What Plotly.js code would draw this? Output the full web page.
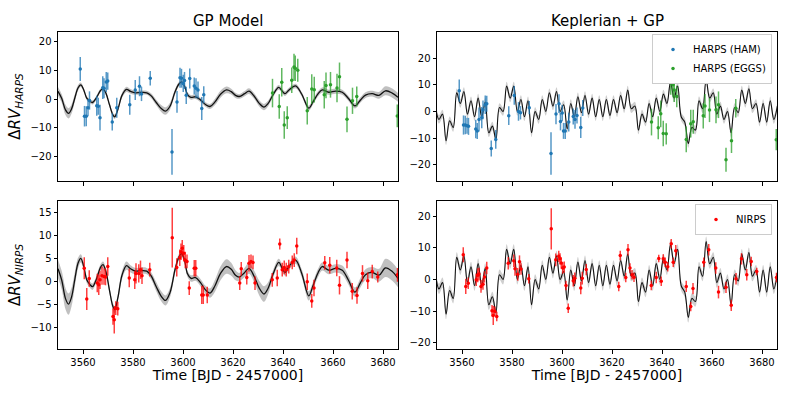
<!DOCTYPE html>
<html>
<head>
<meta charset="utf-8">
<script src="https://cdn.plot.ly/plotly-3.0.1.min.js"></script>
<style>body{margin:0;background:#fff}#fig{width:793px;height:397px}</style>
</head>
<body>
<div id="fig"></div>
<script>
// HARPS (HAM) data: time, value in GP panel, value in Keplerian+GP panel, error
var hamT   = [3558.9,3560.6,3561.3,3562.0,3562.6,3565.5,3566.1,3566.8,3567.9,3568.4,3569.3,3569.9,3571.7,3573.5,3578.7,3580.9,3582.6,3583.4,3586.9,3595.6,3597.6,3598.8,3599.4,3600.1,3600.6,3601.3,3602.7,3604.5,3605.2,3606.0,3607.5,3608.3];
var hamGP  = [10.5,-6.0,-6.0,-3.0,-0.5,-2.3,-2.5,-6.5,4.0,3.8,6.0,6.3,-8.0,-3.0,-2.0,3.2,4.5,1.8,7.3,-18.5,-1.0,7.5,7.3,5.5,6.5,1.3,7.2,4.6,3.8,3.2,-3.3,1.5];
var hamKep = [7.8,-5.1,-5.1,-5.4,-5.6,-6.6,-7.3,-3.0,-2.3,0.6,2.5,2.9,-13.9,-10.5,-1.6,6.0,0.0,-0.5,1.4,-15.8,-1.0,2.9,-3.8,-0.6,-7.3,-7.3,-4.0,-1.9,-3.0,-1.5,-6.0,1.3];
var hamErr = [4.2,3.6,3.5,3.0,3.2,3.5,3.0,4.5,4.0,3.5,3.5,3.0,3.0,3.5,3.5,3.5,3.5,2.5,2.5,8.0,3.8,3.5,3.3,3.0,3.0,3.0,3.5,3.0,3.5,3.0,4.0,3.0];

// HARPS (EGGS)
var eggsT   = [3635.8,3638.5,3639.5,3640.5,3641.7,3643.5,3644.4,3644.9,3645.9,3649.7,3651.5,3652.5,3656.5,3657.2,3659.0,3661.6,3662.6,3665.6,3667.8,3669.5,3685.7];
var eggsGP  = [2.1,-2.6,5.9,-9.1,-6.5,6.6,11.2,10.8,10.1,-4.1,3.5,3.3,1.5,4.8,5.0,3.9,7.8,-7.1,-0.6,0.9,-5.9];
var eggsKep = [-4.0,-6.1,-0.9,-8.3,-8.4,10.8,10.0,8.0,5.6,-10.5,-4.6,-3.9,-1.6,2.0,0.5,0.6,2.5,-18.1,-11.0,1.2,-10.6];
var eggsErr = [5.0,4.3,5.0,4.8,4.0,4.5,4.7,4.5,4.0,4.8,5.2,4.5,4.8,4.5,4.5,5.0,5.0,4.5,4.6,3.5,4.0];

// NIRPS
var nirpsT   = [3560.5,3561.5,3562.5,3565.7,3566.3,3566.8,3567.6,3568.4,3569.0,3569.9,3572.0,3572.5,3573.1,3573.9,3578.5,3580.7,3581.2,3582.3,3583.0,3583.6,3586.7,3595.7,3597.5,3598.7,3599.2,3599.7,3600.3,3600.9,3601.6,3602.5,3604.5,3605.1,3607.5,3608.1,3609.7,3622.7,3623.3,3625.5,3626.4,3627.2,3628.0,3628.8,3635.7,3637.7,3638.7,3639.7,3640.5,3641.3,3642.3,3643.7,3644.5,3645.5,3649.7,3651.5,3652.4,3656.7,3658.7,3661.5,3662.6,3665.6,3667.7,3669.6,3671.8,3673.9,3675.7,3677.9,3685.8];
var nirpsGP  = [2.8,-3.9,0.6,-0.4,-0.8,0.3,1.2,1.0,0.9,3.2,-7.7,-8.4,-5.9,-6.0,0.7,0.3,1.7,1.7,2.5,1.2,2.5,9.5,3.0,5.1,6.4,7.2,6.1,4.6,4.3,-1.5,2.8,2.8,-3.0,-3.0,-3.0,-0.4,2.7,0.8,3.9,4.3,4.1,-0.4,0.3,0.7,8.1,2.5,3.0,2.5,3.2,4.1,4.6,7.7,-0.1,-4.3,-1.5,4.0,3.5,2.9,-0.9,4.6,-2.2,-3.1,1.7,0.1,2.1,0.9,1.4];
var nirpsKep = [7.8,-2.2,-1.2,-0.1,1.3,1.7,-2.2,-1.5,0.8,3.6,-9.9,-11.4,-10.1,-11.7,5.1,5.9,3.4,1.6,5.6,3.3,0.2,16.0,6.2,7.3,6.5,5.2,3.6,3.9,-1.9,-9.1,-0.4,0.4,-2.7,0.4,3.1,-2.2,7.6,0.6,9.4,3.6,1.5,0.7,-1.9,0.6,6.6,-0.6,6.5,5.4,4.0,11.3,5.4,9.1,-2.2,-8.6,-2.9,5.4,9.4,3.6,-4.0,-2.5,-8.2,0.2,6.5,1.5,5.7,2.5,0.6];
var nirpsErr = [2.4,2.4,1.8,2.0,2.2,2.0,2.0,1.8,1.8,2.0,1.8,3.0,1.5,1.5,2.0,2.0,2.2,2.0,2.0,1.8,1.5,6.5,2.0,1.8,1.8,1.8,1.8,1.8,1.5,1.5,1.8,1.8,2.0,2.0,1.8,1.5,1.5,1.5,1.8,1.5,1.5,1.5,1.5,1.8,1.2,1.5,1.5,1.5,1.5,1.5,1.5,1.8,1.8,1.5,1.8,1.5,1.8,1.8,2.0,1.8,1.8,1.8,1.8,1.8,1.5,1.2,1.5];

// GP model (left column): knots, mean, 1-sigma for HARPS and NIRPS
var gpT = [3550.0,3551.5,3553.0,3554.2,3555.4,3556.7,3558.0,3559.1,3560.3,3561.5,3562.7,3563.8,3565.4,3567.0,3568.0,3569.2,3570.6,3572.0,3572.7,3574.0,3575.6,3577.4,3579.0,3581.0,3583.0,3585.5,3587.2,3589.3,3591.3,3593.0,3594.8,3596.8,3598.3,3599.4,3600.6,3601.8,3603.2,3605.0,3607.0,3609.0,3610.8,3612.8,3615.0,3617.4,3619.3,3621.0,3622.5,3624.5,3626.4,3628.5,3630.5,3632.4,3634.0,3636.0,3638.3,3639.8,3640.8,3642.4,3645.0,3647.5,3650.3,3652.0,3654.0,3655.7,3658.3,3661.0,3663.7,3666.2,3668.8,3671.0,3673.0,3675.7,3678.4,3681.0,3683.7,3686.0];
var gpV = [2.7,0.2,-3.8,-5.0,-3.5,0.3,3.9,5.0,3.2,0.3,-0.7,-1.2,0.5,3.0,3.6,2.0,-2.0,-5.6,-6.2,-3.5,1.3,3.4,2.7,2.2,2.3,2.2,1.2,-1.2,-3.3,-4.2,-2.5,2.5,5.2,6.0,4.6,1.6,0.6,0.8,-0.3,-1.9,-2.6,-1.0,1.7,3.2,2.6,1.3,0.9,1.8,2.8,1.0,-1.5,-2.8,-1.6,1.5,4.1,2.7,1.9,3.2,4.6,1.7,-3.2,-1.0,1.8,3.2,2.4,2.8,2.4,0.2,-2.4,-0.3,1.4,1.9,1.3,2.9,2.1,0.6];
var gpSigH = [1.5,1.5,1.8,1.8,1.6,1.3,1.0,0.8,0.7,0.7,0.7,0.7,0.7,0.7,0.7,0.7,0.7,0.8,0.8,0.8,0.9,0.9,0.8,0.7,0.7,0.7,0.8,1.0,1.2,1.3,1.2,0.9,0.8,0.8,0.8,0.8,0.8,0.8,0.8,0.8,0.9,1.1,1.2,1.2,1.0,0.9,0.8,0.9,1.0,1.0,1.1,1.1,1.0,0.9,0.8,0.8,0.8,0.8,0.8,0.8,0.9,0.9,0.9,0.9,0.9,0.9,0.9,0.9,0.9,0.9,1.0,1.0,1.2,1.6,1.6,1.5];
var gpSigN = [2.0,2.0,2.3,2.3,2.0,1.6,1.2,0.9,0.8,0.7,0.7,0.7,0.7,0.7,0.7,0.7,0.7,0.8,0.8,0.8,0.9,0.9,0.8,0.7,0.7,0.7,0.8,1.0,1.1,1.1,1.0,0.8,0.7,0.7,0.7,0.7,0.7,0.7,0.8,0.9,1.0,1.3,1.5,1.6,1.4,1.1,0.9,1.0,1.2,1.3,1.6,1.7,1.3,0.9,0.8,0.7,0.7,0.7,0.8,0.9,1.0,0.9,0.9,0.9,0.9,0.9,1.0,1.0,1.0,1.0,1.2,1.2,1.4,2.0,2.0,1.9];

// Keplerian + GP model (right column): turning points of the curve
var kepT = [3549.35,3550.78,3552.20,3553.63,3555.05,3556.48,3557.90,3559.33,3560.75,3562.18,3563.60,3565.03,3566.45,3567.88,3569.30,3570.73,3572.15,3573.58,3575.00,3576.43,3577.85,3579.28,3580.70,3582.13,3583.55,3584.98,3586.40,3587.83,3589.25,3590.68,3592.10,3593.53,3594.95,3596.38,3597.80,3599.23,3600.65,3602.08,3603.50,3604.93,3606.35,3607.78,3609.20,3610.63,3612.05,3613.48,3614.90,3616.33,3617.75,3619.18,3620.60,3622.03,3623.45,3624.88,3626.30,3627.73,3629.15,3630.58,3632.00,3633.43,3634.85,3636.28,3637.70,3639.13,3640.55,3641.98,3643.40,3644.83,3646.25,3647.68,3649.10,3650.53,3651.95,3653.38,3654.80,3656.23,3657.65,3659.08,3660.50,3661.93,3663.35,3664.78,3666.20,3667.63,3669.05,3670.48,3671.90,3673.33,3674.75,3676.18,3677.60,3679.03,3680.45,3681.88,3683.30,3684.73,3686.15];
var kepV = [2,-3,-1,-11,-3.5,-6,7,3,7.5,-1,4,-2,5,-2,3.5,-8,-5.5,-10.5,1.5,0,9.5,5,9.5,0,4.5,-2,4,-8,0,-3,4.5,0,7,2,7.5,0,2.5,-6.5,3,-2,5.5,-0.5,6,-1,5,-2,4.5,-2,4.5,-1.5,4.5,-0.5,6,1,8,1,2,-7,-1,-4,3,-2,5,0,6.5,3,11,5,9.5,-2,-4,-12,-6,-7,4,1,12,5,7,-1,2,-3,0,-8,1.5,-0.5,8,3,8.5,1,3,-4,3,-4,4,-3,2];
var kepSig = 1.6;

var FONT = 'DejaVu Sans, Liberation Sans, sans-serif';
var blue = '#1f77b4', green = '#2ca02c', red = '#ff0000';

function bandTraces(t, v, sig, xa, ya, fillcol, lw) {
  var lo = [], hi = [];
  for (var i = 0; i < t.length; i++) {
    var s = Array.isArray(sig) ? sig[i] : sig;
    lo.push(v[i] - s); hi.push(v[i] + s);
  }
  return [
    {x: t, y: lo, xaxis: xa, yaxis: ya, mode: 'lines', line: {width: 0, shape: 'spline'}, showlegend: false, hoverinfo: 'skip'},
    {x: t, y: hi, xaxis: xa, yaxis: ya, mode: 'lines', line: {width: 0, shape: 'spline'}, fill: 'tonexty', fillcolor: fillcol, showlegend: false, hoverinfo: 'skip'},
    {x: t, y: v, xaxis: xa, yaxis: ya, mode: 'lines', line: {color: '#111', width: lw, shape: 'spline'}, showlegend: false}
  ];
}

function pts(t, v, e, col, barcol, xa, ya, name, show, leg) {
  return {x: t, y: v, xaxis: xa, yaxis: ya, mode: 'markers', name: name, showlegend: show, legend: leg,
    marker: {color: col, size: 3.5},
    error_y: {type: 'data', array: e, visible: true, color: barcol, thickness: 1.5, width: 0}};
}

var data = [].concat(
  bandTraces(gpT, gpV, gpSigH, 'x', 'y', 'rgba(150,150,150,0.6)', 1.3),
  [pts(hamT, hamGP, hamErr, blue, 'rgba(31,119,180,0.75)', 'x', 'y', 'HARPS (HAM)', false),
   pts(eggsT, eggsGP, eggsErr, green, 'rgba(44,160,44,0.75)', 'x', 'y', 'HARPS (EGGS)', false)],
  bandTraces(gpT, gpV, gpSigN, 'x2', 'y2', 'rgba(150,150,150,0.6)', 1.3),
  [pts(nirpsT, nirpsGP, nirpsErr, red, 'rgba(255,0,0,0.75)', 'x2', 'y2', 'NIRPS', false)],
  bandTraces(kepT, kepV, kepSig, 'x3', 'y3', 'rgba(160,160,160,0.5)', 1.1),
  [pts(hamT, hamKep, hamErr, blue, 'rgba(31,119,180,0.75)', 'x3', 'y3', 'HARPS (HAM)', true, 'legend'),
   pts(eggsT, eggsKep, eggsErr, green, 'rgba(44,160,44,0.75)', 'x3', 'y3', 'HARPS (EGGS)', true, 'legend')],
  bandTraces(kepT, kepV, kepSig, 'x4', 'y4', 'rgba(160,160,160,0.5)', 1.1),
  [pts(nirpsT, nirpsKep, nirpsErr, red, 'rgba(255,0,0,0.75)', 'x4', 'y4', 'NIRPS', true, 'legend2')]
);

function ax(extra) {
  var a = {showline: true, mirror: true, linecolor: '#000', linewidth: 1, ticks: 'outside', ticklen: 3.5,
    tickcolor: '#000', zeroline: false, showgrid: false, tickfont: {family: FONT, size: 10, color: '#000'}};
  for (var k in extra) a[k] = extra[k];
  return a;
}
var xr = [3550, 3686];
var xTitle = {text: 'Time [BJD - 2457000]', font: {family: FONT, size: 14, color: '#000'}, standoff: 1};
function yTitle(inst) {
  return {text: 'Δ<i>RV</i><sub><i>' + inst + '</i></sub>', font: {family: FONT, size: 15, color: '#000'}, standoff: 6};
}

var L = [58/793, 398/793], R = [437/793, 777/793];
var T = [1 - 181/397, 1 - 32/397], B = [1 - 349/397, 1 - 201/397];

var legBase = {xanchor: 'right', yanchor: 'top', bgcolor: '#fff', bordercolor: '#ccc', borderwidth: 1,
  font: {family: FONT, size: 10, color: '#000'}, itemwidth: 30, traceorder: 'normal', tracegroupgap: 0};
var leg1 = Object.assign({x: 772/793, y: 1 - 34/397}, legBase);
var leg2 = Object.assign({x: 772/793, y: 1 - 204/397}, legBase);

var layout = {
  width: 793, height: 397, margin: {l: 0, r: 0, t: 0, b: 0},
  paper_bgcolor: '#fff', plot_bgcolor: '#fff',
  xaxis:  ax({domain: L, range: xr, anchor: 'y',  tick0: 3560, dtick: 20, showticklabels: false}),
  yaxis:  ax({domain: T, range: [-28.7, 23.5], anchor: 'x', tickvals: [-20, -10, 0, 10, 20], title: yTitle('HARPS')}),
  xaxis2: ax({domain: L, range: xr, anchor: 'y2', tick0: 3560, dtick: 20, title: xTitle}),
  yaxis2: ax({domain: B, range: [-14.8, 17.5], anchor: 'x2', tickvals: [-10, -5, 0, 5, 10, 15], title: yTitle('NIRPS')}),
  xaxis3: ax({domain: R, range: xr, anchor: 'y3', tick0: 3560, dtick: 20, showticklabels: false}),
  yaxis3: ax({domain: T, range: [-26.1, 29.8], anchor: 'x3', tickvals: [-20, -10, 0, 10, 20]}),
  xaxis4: ax({domain: R, range: xr, anchor: 'y4', tick0: 3560, dtick: 20, title: xTitle}),
  yaxis4: ax({domain: B, range: [-22, 24.8], anchor: 'x4', tickvals: [-20, -10, 0, 10, 20]}),
  legend: leg1,
  legend2: leg2,
  annotations: [
    {text: 'GP Model', xref: 'paper', yref: 'paper', x: 228/793, y: 1 - 21/397, xanchor: 'center', yanchor: 'middle', showarrow: false, font: {family: FONT, size: 15, color: '#000'}},
    {text: 'Keplerian + GP', xref: 'paper', yref: 'paper', x: 607/793, y: 1 - 21/397, xanchor: 'center', yanchor: 'middle', showarrow: false, font: {family: FONT, size: 15, color: '#000'}}
  ]
};

Plotly.newPlot('fig', data, layout, {staticPlot: true});
</script>
</body>
</html>
